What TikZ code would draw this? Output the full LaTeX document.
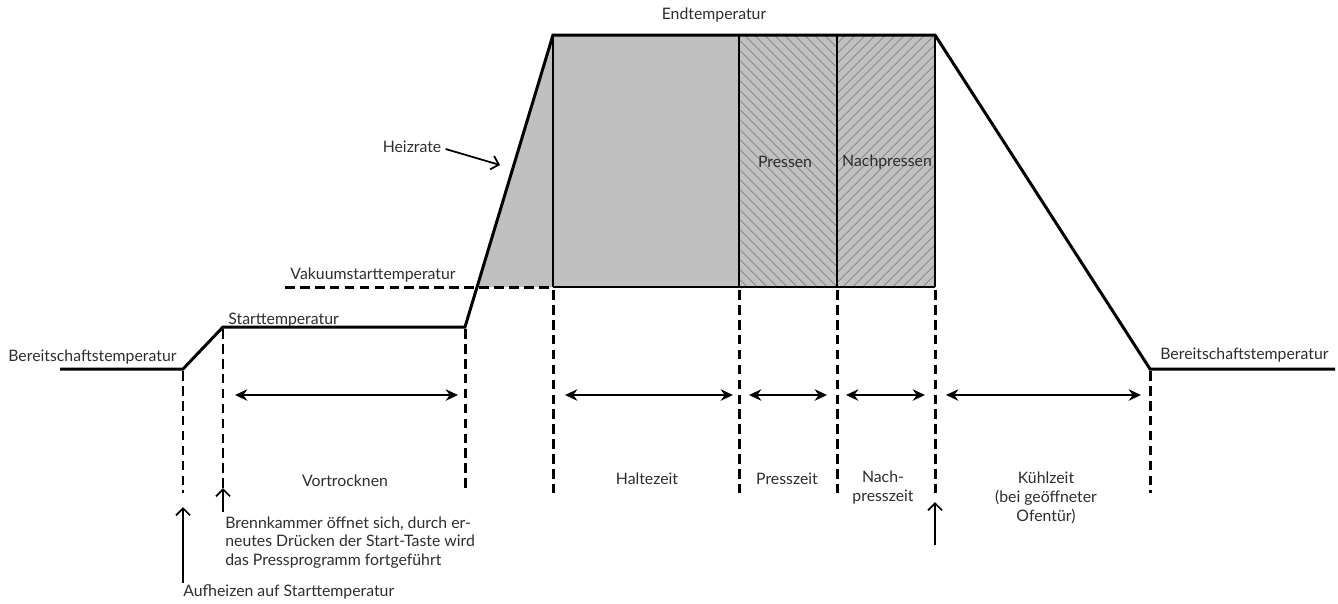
\documentclass[tikz,border=0pt]{standalone}
\usepackage{fontspec}
\setmainfont{Lato}
\usetikzlibrary{arrows.meta, patterns.meta}
\definecolor{fillgray}{RGB}{192,192,192}
\definecolor{hatchgray}{RGB}{115,115,115}
\definecolor{textgray}{RGB}{45,45,45}
\tikzset{
	curve/.style = {line width = 1.7pt, line join = miter},
	guide/.style = {line width = 1.7pt, dash pattern = on 5.5pt off 3pt},
	span/.style = {line width = 1.1pt, {Stealth[length = 7pt, width = 6.5pt]}-{Stealth[length = 7pt, width = 6.5pt]}},
	pointer/.style = {line width = 1pt, -{Straight Barb[length = 4pt, width = 8pt]}},
	lbl/.style = {text = textgray, font = \fontsize{9}{10.8}\selectfont, inner sep = 0pt},
}

\begin{document}
\begin{tikzpicture}[x = 0.02cm, y = -0.02cm]
		\useasboundingbox (0, 0) rectangle (1338, 603);
		% Temperaturverlauf
		\coordinate (b0) at (60, 369);
		\coordinate (b1) at (183, 369);
		\coordinate (s0) at (223, 327);
		\coordinate (s1) at (465, 327);
		\coordinate (e0) at (553, 35);
		\coordinate (e1) at (935, 35);
		\coordinate (b2) at (1150, 369);
		\coordinate (b3) at (1335, 369);
		\coordinate (v0) at (285, 287);
		\coordinate (v1) at (477, 287);
		\fill[fillgray] (v1) -- (e0) -- (e1) -- (935, 287) -- cycle;
		\fill[pattern = {Lines[angle = -45, distance = 4pt, line width = 0.4pt]}, pattern color = hatchgray] (739, 35) rectangle (837, 287);
		\fill[pattern = {Lines[angle = 45, distance = 4pt, line width = 0.4pt]}, pattern color = hatchgray] (837, 35) rectangle (935, 287);
		\draw[line width = 1pt] (553, 35) -- (553, 287) (739, 35) -- (739, 287) (837, 35) -- (837, 287) (935, 35) -- (935, 287);
		\draw[line width = 1.2pt] (553, 287) -- (935, 287);
		\draw[guide] (v0) -- (553, 287);
		\draw[curve] (b0) -- (b1) -- (s0) -- (s1) -- (e0) -- (e1) -- (b2) -- (b3);
		% Hilfslinien und Zeitspannen
		\foreach \x/\y in {183/371, 223/329, 465/329, 553/290, 739/290, 837/290, 935/290, 1150/371}
			\draw[guide] (\x, \y) -- (\x, 493);
		\foreach \a/\b in {235/458, 565/733, 749/827, 846/925, 946/1141}
			\draw[span] (\a, 395) -- (\b, 395);
		% Beschriftungen
		\node[lbl] (endt) at (714, 15) {Endtemperatur};
		\node[lbl] (heiz) at (412, 147) {Heizrate};
		\node[lbl] (press) at (785, 162) {Pressen};
		\node[lbl] (nachp) at (887, 162) {Nachpressen};
		\node[lbl, anchor = east] (vakt) at (456, 275) {Vakuumstarttemperatur};
		\node[lbl, anchor = west] (startt) at (228, 320) {Starttemperatur};
		\node[lbl, anchor = west] (bereitl) at (8, 357) {Bereitschaftstemperatur};
		\node[lbl, anchor = west] (bereitr) at (1160, 355) {Bereitschaftstemperatur};
		\node[lbl] (vortr) at (345, 481) {Vortrocknen};
		\node[lbl] (halte) at (647, 479) {Haltezeit};
		\node[lbl] (pressz) at (787, 479) {Presszeit};
		\node[lbl, align = center] (nachz) at (883, 488) {Nach-\\presszeit};
		\node[lbl, align = center] (kuehl) at (1046, 498) {Kühlzeit\\(bei geöffneter\\Ofentür)};
		\node[lbl, align = left, anchor = north west] (brenn) at (225, 516) {Brennkammer öffnet sich, durch er-\\neutes Drücken der Start-Taste wird\\das Pressprogramm fortgeführt};
		\node[lbl, anchor = west] (aufh) at (183, 592) {Aufheizen auf Starttemperatur};
		% Pfeile
		\coordinate (heiztip) at (500, 165);
		\draw[pointer] (heiz.east) ++(4, 2) -- (heiztip);
		\draw[pointer] (183, 583) -- (183, 507);
		\draw[pointer] (brenn.north west) ++(-2, -4) -- (223, 488);
		\draw[pointer] (935, 545) -- (935, 502);
\end{tikzpicture}
\end{document}
